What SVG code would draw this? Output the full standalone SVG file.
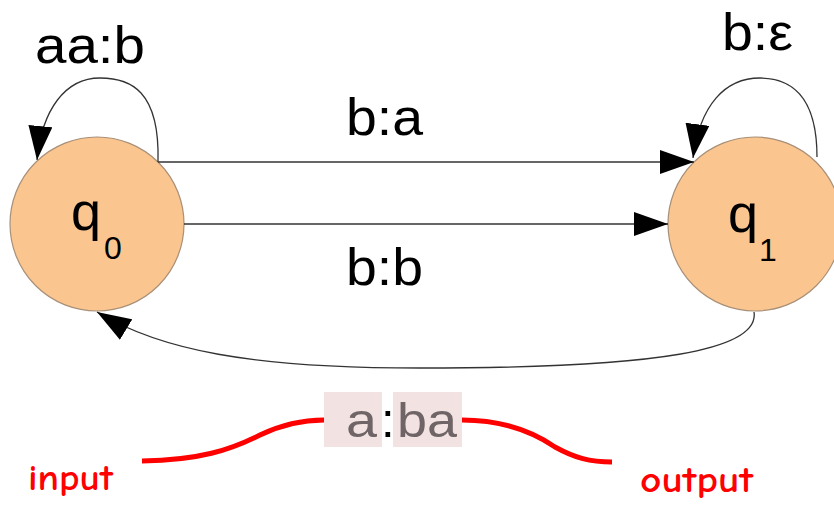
<svg xmlns="http://www.w3.org/2000/svg" width="834" height="506" viewBox="0 0 834 506">
<style>
.node{fill:#fbc58f;stroke:#a89078;stroke-width:1.2}
.lbl{font-family:"Liberation Sans",Arial,sans-serif;fill:#000}
.edge{fill:none;stroke:#333;stroke-width:1.3}
.red{fill:none;stroke:#ff0000;stroke-width:5;stroke-linecap:butt}
.hand{font-family:"Comic Neue","DejaVu Sans",sans-serif;fill:#ff0000;font-size:36px;font-weight:bold}
.ann{font-family:"Liberation Sans",Arial,sans-serif;font-size:49px;fill:#6f6466}
</style>
<defs>
<marker id="ah" markerWidth="36" markerHeight="24" refX="34" refY="12" orient="auto" markerUnits="userSpaceOnUse">
<path d="M0,0 L34,12 L0,24 Z" fill="#000"/>
</marker>
</defs>
<rect width="834" height="506" fill="#fff"/>
<g id="q0">
<circle class="node" cx="97" cy="224" r="87"/>
<text class="lbl" x="71" y="230" font-size="54">q</text>
<text class="lbl" x="104" y="259" font-size="32">0</text>
</g>
<g id="q1">
<circle class="node" cx="755" cy="224" r="87"/>
<text class="lbl" x="728" y="232" font-size="54">q</text>
<text class="lbl" x="759" y="261" font-size="32">1</text>
</g>
<g id="connectors">
<path class="edge" d="M158,162 C160,90 130,78 100,78 C65,78 42,110 37,160" marker-end="url(#ah)"/>
<path class="edge" d="M158,162 L694,162" marker-end="url(#ah)"/>
<path class="edge" d="M184,224 L668,224" marker-end="url(#ah)"/>
<path class="edge" d="M817,157 C817,95 790,78 760,78 C725,78 700,105 693,158" marker-end="url(#ah)"/>
<path class="edge" d="M754,312 C760,350 660,368 420,368 C250,368 160,350 97,312" marker-end="url(#ah)"/>
</g>
<g id="labels">
<text class="lbl" x="35" y="63" font-size="52" textLength="110" lengthAdjust="spacingAndGlyphs">aa:b</text>
<text class="lbl" x="722" y="50" font-size="52" textLength="71" lengthAdjust="spacingAndGlyphs">b:ε</text>
<text class="lbl" x="346" y="135" font-size="52" textLength="77" lengthAdjust="spacingAndGlyphs">b:a</text>
<text class="lbl" x="346" y="285" font-size="52" textLength="77" lengthAdjust="spacingAndGlyphs">b:b</text>
</g>
<g id="annotation">
<rect x="324" y="392" width="58" height="55" fill="#f3e2e2"/>
<rect x="393" y="392" width="69" height="55" fill="#f3e2e2"/>
<text class="ann" x="346" y="437" textLength="31" lengthAdjust="spacingAndGlyphs">a</text>
<text class="ann" x="381" y="437" style="fill:#000">:</text>
<text class="ann" x="397" y="437" textLength="60" lengthAdjust="spacingAndGlyphs">ba</text>
<path class="red" d="M142,461 C200,460 230,450 260,435 C285,423 305,420 324,420"/>
<path class="red" d="M462,420 C500,420 530,430 555,447 C575,458 590,462 612,462"/>
<text class="hand" x="28" y="490" textLength="85" lengthAdjust="spacingAndGlyphs">input</text>
<text class="hand" x="640" y="492" textLength="113" lengthAdjust="spacingAndGlyphs">output</text>
</g>
</svg>
